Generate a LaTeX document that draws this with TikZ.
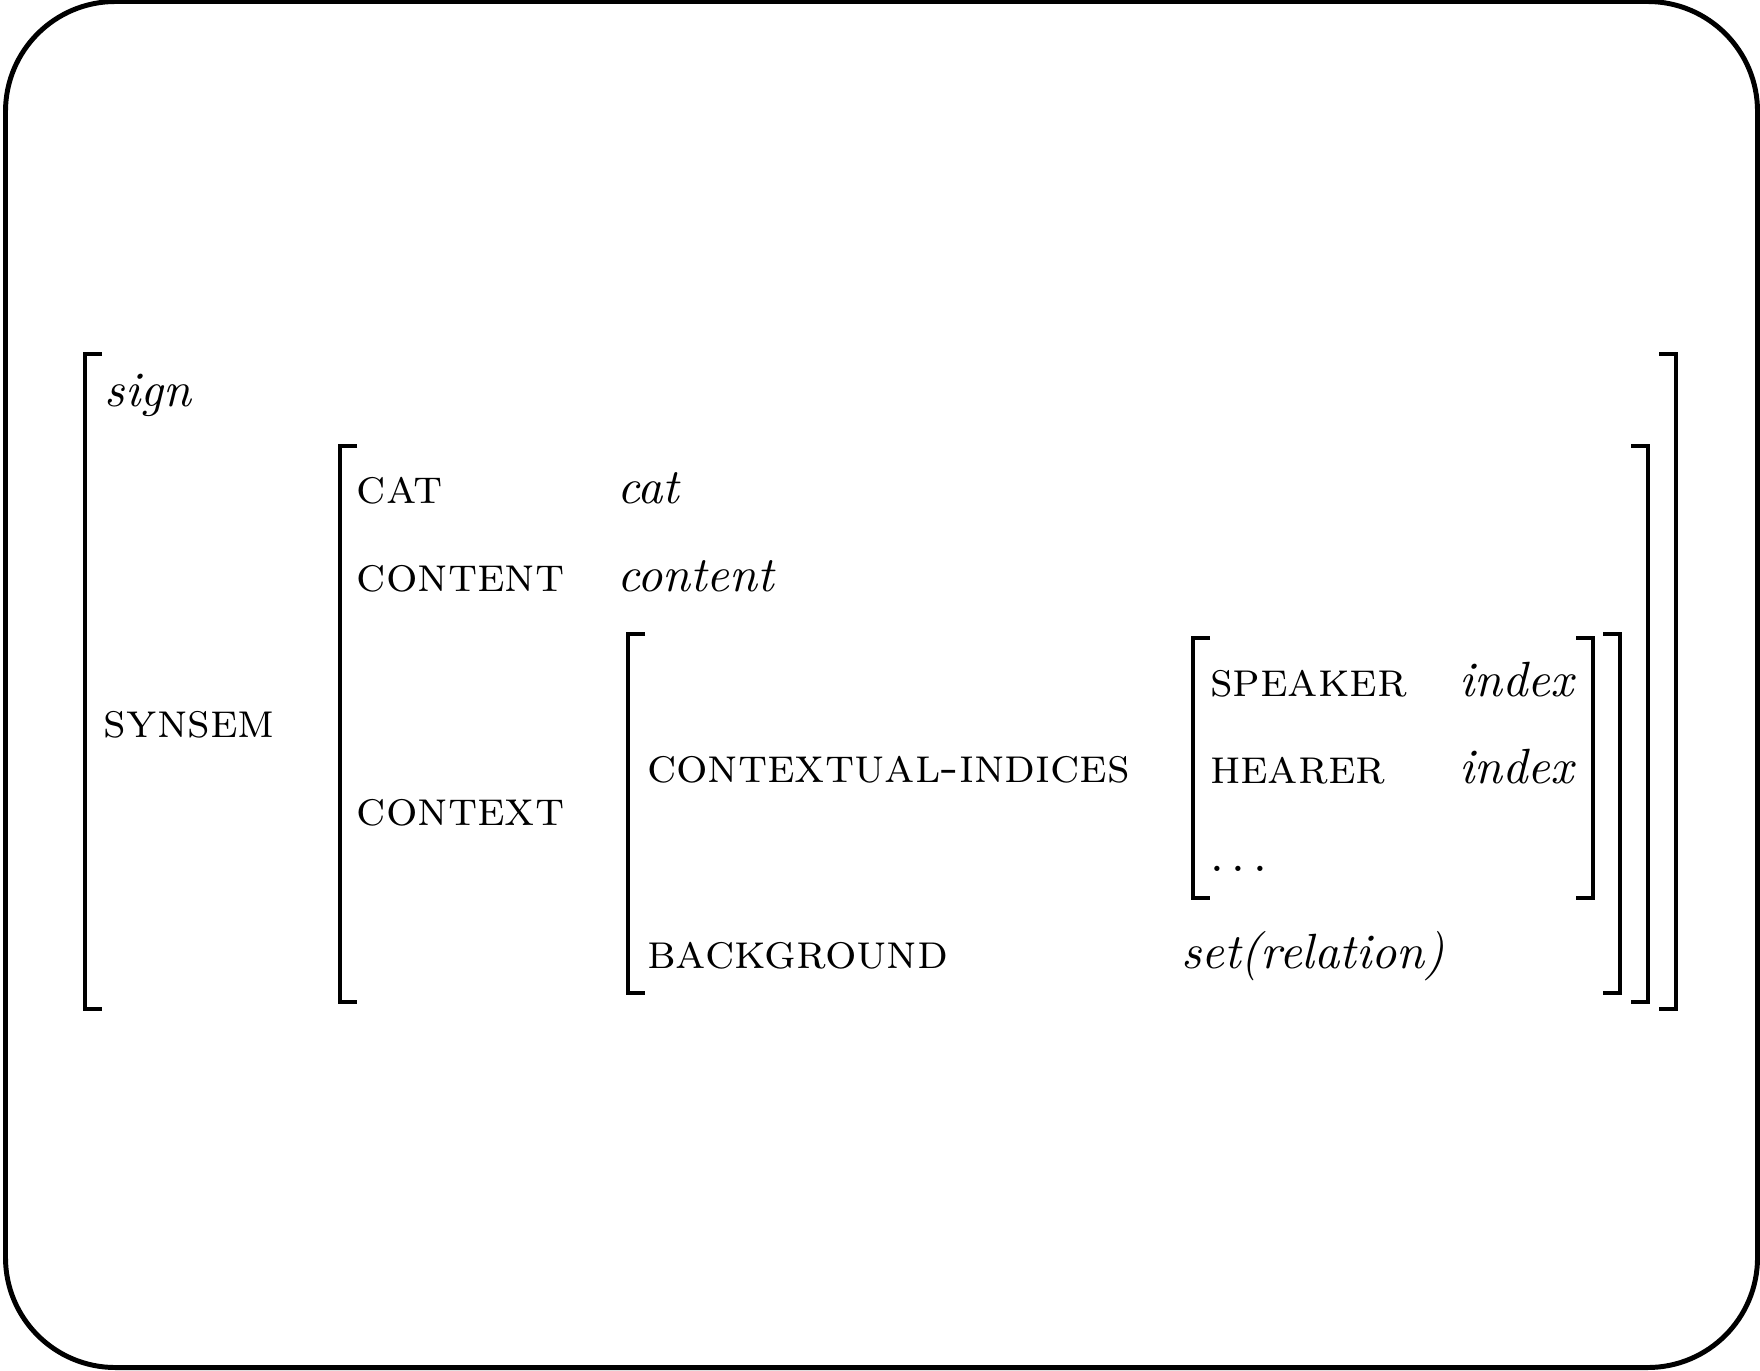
\documentclass[tikz,border=0pt]{standalone}
\begin{document}
\begin{tikzpicture}[
		x=0.202pt, y=-0.202pt,
		frame/.style={line width=1pt, rounded corners=22.2pt},
		brak/.style={line width=0.72pt},
		attr/.style={anchor=base west, inner sep=0pt, font=\scshape},
		val/.style={anchor=base west, inner sep=0pt, font=\itshape}
		]
		
		\useasboundingbox (0,0) rectangle (1760,1370);
		
		% Frame
		\draw[frame] (5.5,1.5) rectangle (1757.5,1367.5);
		
		% Outer matrix
		\draw[brak] (102,354) -- (85,354) -- (85,1009) -- (102,1009);
		\draw[brak] (1659,354) -- (1676,354) -- (1676,1009) -- (1659,1009);
		\node[val] (sign) at (104,406) {sign};
		\node[attr] (synsem) at (103,737) {synsem};
		
		% Synsem value
		\draw[brak] (357,446) -- (340,446) -- (340,1002) -- (357,1002);
		\draw[brak] (1631,446) -- (1648,446) -- (1648,1002) -- (1631,1002);
		\node[attr] (cat) at (356,503) {cat};
		\node[val] (catval) at (616,503) {cat};
		\node[attr] (content) at (356,591) {content};
		\node[val] (contentval) at (616,591) {content};
		\node[attr] (context) at (356,825) {context};
		
		% Context value
		\draw[brak] (645,634) -- (628,634) -- (628,993) -- (645,993);
		\draw[brak] (1603,634) -- (1620,634) -- (1620,993) -- (1603,993);
		\node[attr] (ctxind) at (646,782) {contextual-indices};
		\node[attr] (backgr) at (646,968) {background};
		\node[val] (backgrval) at (1180,968) {set(relation)};
		
		% Contextual indices value
		\draw[brak] (1210,638) -- (1193,638) -- (1193,898) -- (1210,898);
		\draw[brak] (1576,638) -- (1593,638) -- (1593,898) -- (1576,898);
		\node[attr] (speaker) at (1209,696) {speaker};
		\node[val] (speakerval) at (1458,696) {index};
		\node[attr] (hearer) at (1209,783) {hearer};
		\node[val] (hearerval) at (1458,783) {index};
		\node[attr] (more) at (1209,871) {$\ldots$};
		
	\end{tikzpicture}
\end{document}
